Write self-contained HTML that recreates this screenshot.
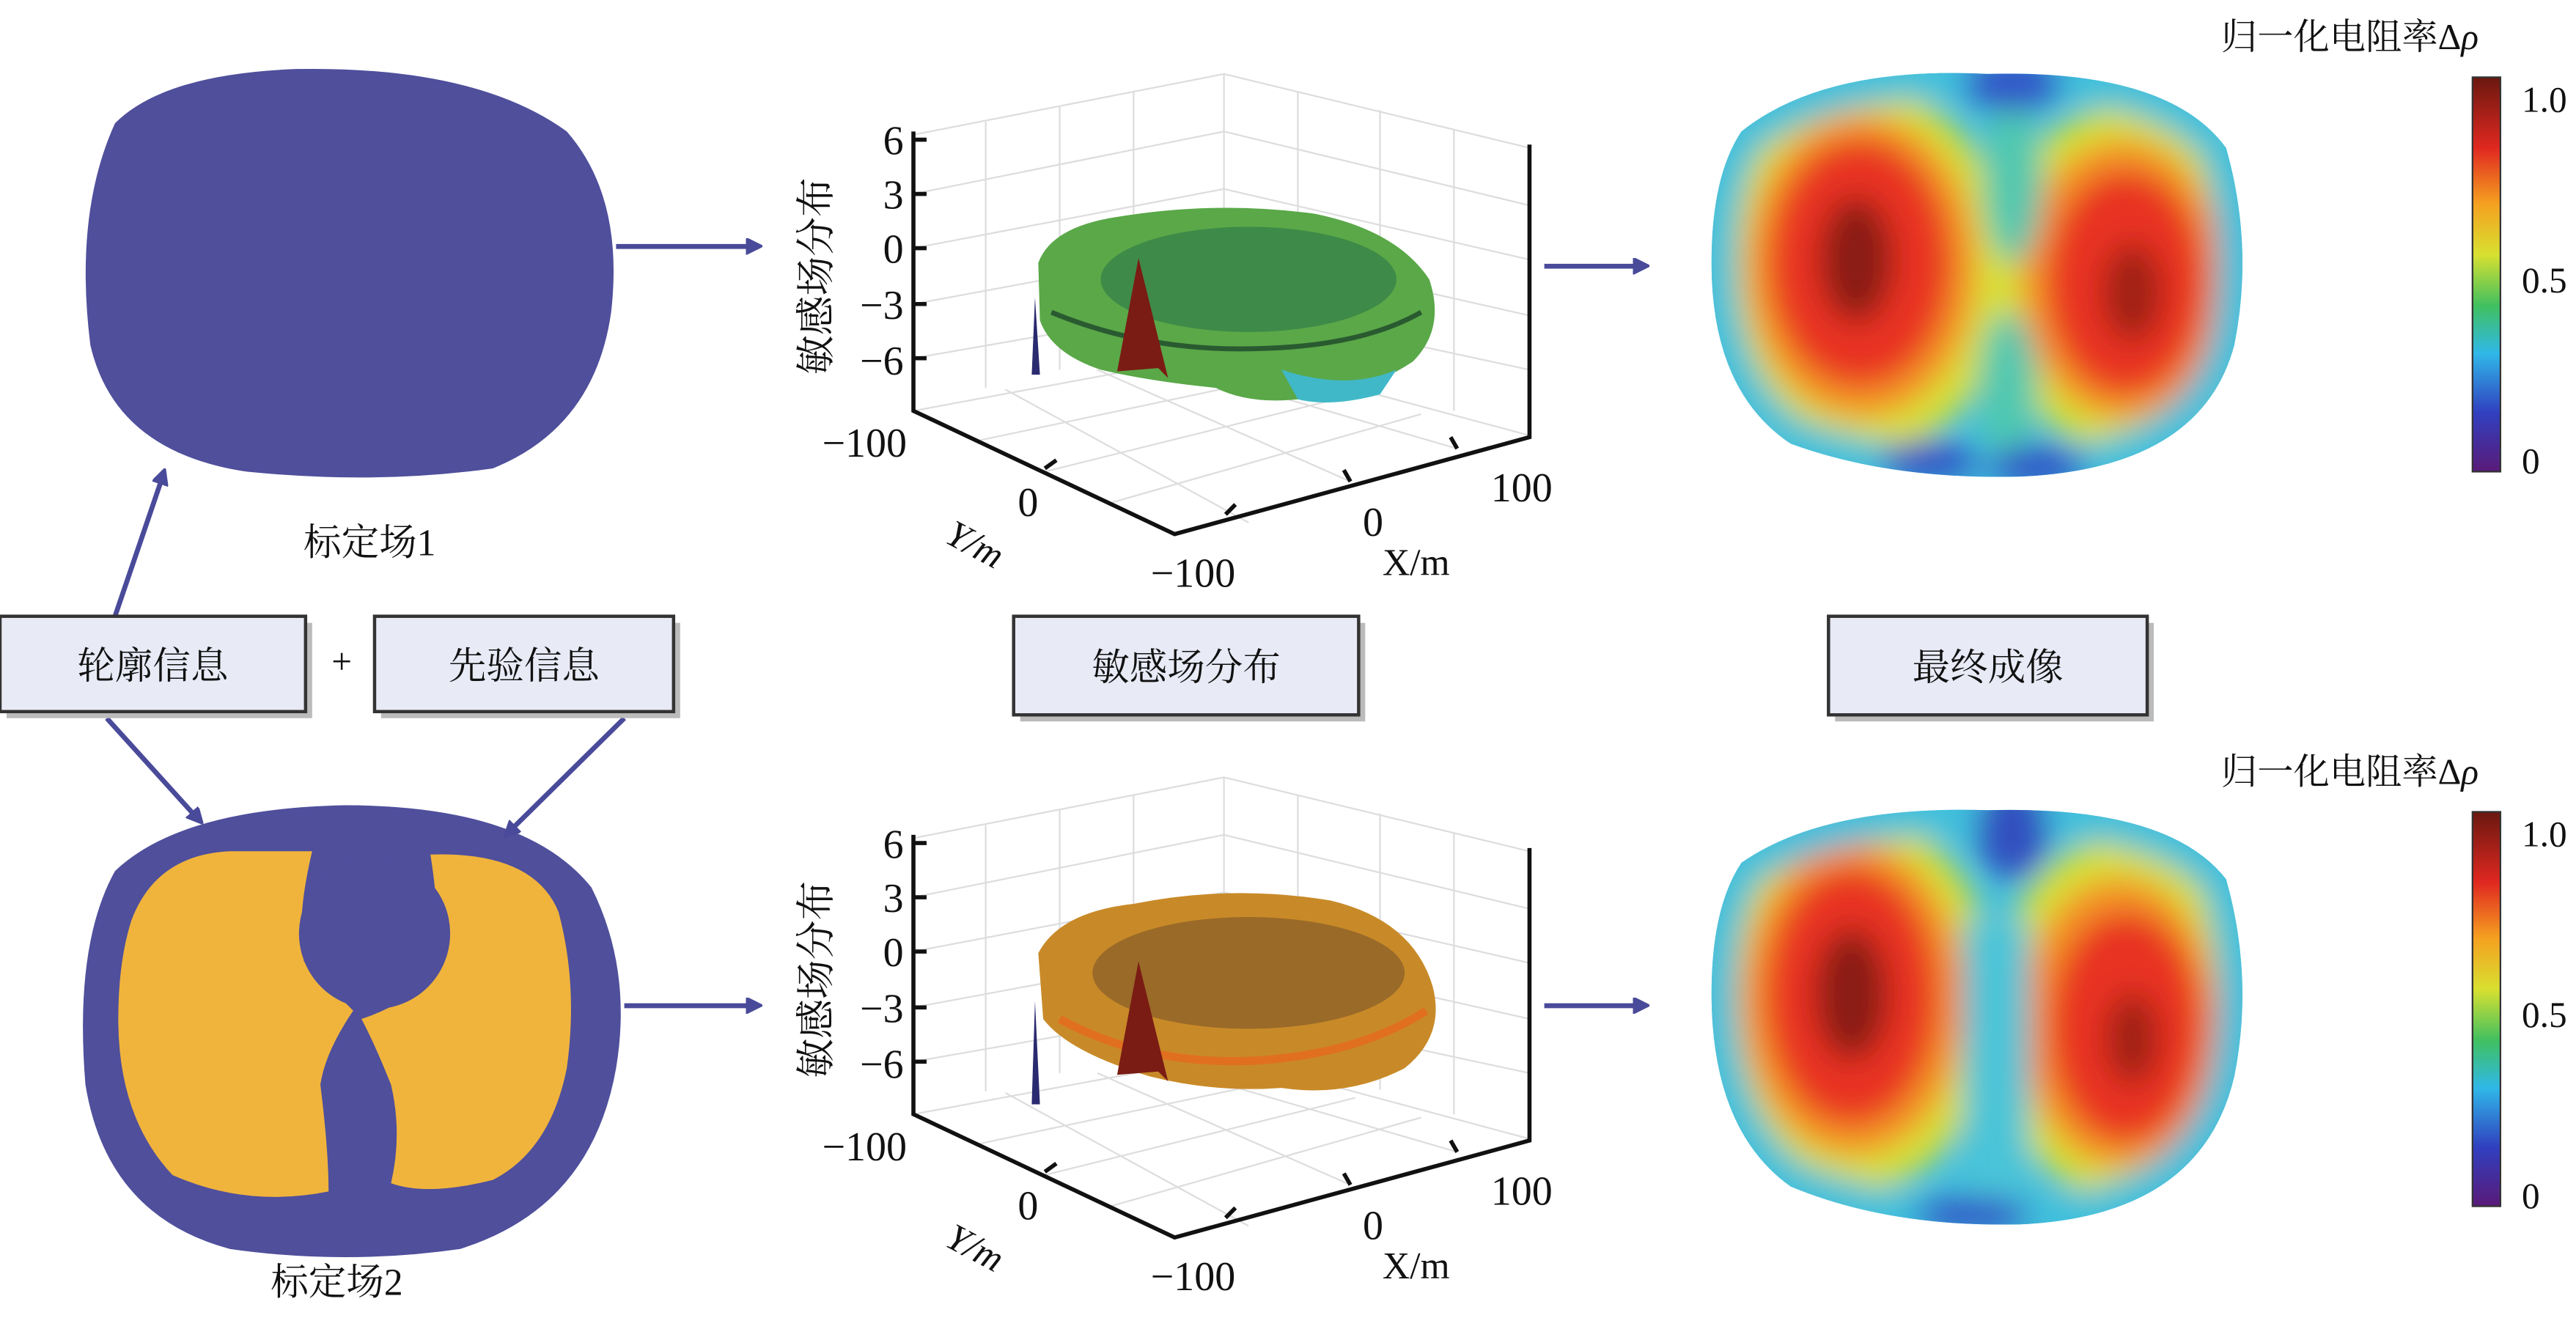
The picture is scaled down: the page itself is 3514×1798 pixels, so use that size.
<!DOCTYPE html>
<html><head><meta charset="utf-8"><style>
html,body{margin:0;padding:0;background:#fff}
svg{display:block}
text{font-family:"Liberation Serif","Noto Serif CJK SC",serif;fill:#111}
</style></head><body>
<svg width="3514" height="1798" viewBox="0 0 1568 802" preserveAspectRatio="none" xmlns="http://www.w3.org/2000/svg">
<defs>
<marker id="ah" markerWidth="10" markerHeight="10" refX="8" refY="5" orient="auto" markerUnits="userSpaceOnUse"><path d="M0,0 L10,5 L0,10 Z" fill="#4a4a9a" transform="scale(1.6) translate(-3,-2)"/></marker>
<filter id="bl" x="-20%" y="-20%" width="140%" height="140%"><feGaussianBlur stdDeviation="9"/></filter>
<linearGradient id="cb" x1="0" y1="1" x2="0" y2="0">
<stop offset="0" stop-color="#5a1a78"/><stop offset="0.15" stop-color="#3040c0"/><stop offset="0.3" stop-color="#30b8e8"/><stop offset="0.42" stop-color="#40c060"/><stop offset="0.55" stop-color="#d8e030"/><stop offset="0.68" stop-color="#f5a020"/><stop offset="0.82" stop-color="#e02820"/><stop offset="1" stop-color="#6a1810"/></linearGradient>
<path id="hs1" d="M1060,80 Q1110,40 1210,45 Q1320,42 1355,90 Q1372,150 1360,210 Q1340,285 1230,290 Q1150,292 1090,270 Q1045,240 1042,170 Q1040,110 1060,80 Z"/>
<path id="hs2" d="M1060,525 Q1110,490 1210,493 Q1320,490 1355,535 Q1372,595 1360,655 Q1340,740 1230,745 Q1150,747 1090,722 Q1045,690 1042,615 Q1040,555 1060,525 Z"/>
<clipPath id="hm1"><use href="#hs1"/></clipPath>
<clipPath id="hm2"><use href="#hs2"/></clipPath>
</defs>

<!-- left blobs -->
<path d="M70,75 Q100,45 180,42 Q290,40 345,80 Q380,120 372,190 Q362,260 300,285 Q230,295 150,287 Q70,275 55,210 Q45,130 70,75 Z" fill="#4f4f9c"/>
<path d="M70,530 Q110,492 210,490 Q320,490 360,540 Q385,590 375,650 Q360,735 280,760 Q210,770 140,760 Q65,740 52,660 Q45,575 70,530 Z" fill="#4f4f9c"/>
<path d="M80,560 Q95,520 140,518 L190,518 Q180,560 185,585 Q200,600 215,615 Q198,640 195,660 Q200,700 200,725 Q150,735 105,715 Q72,680 72,620 Q72,585 80,560 Z" fill="#f0b43c"/>
<path d="M262,520 Q325,518 340,555 Q352,600 345,650 Q335,700 300,718 Q260,728 238,720 Q245,690 238,660 Q228,635 220,620 Q245,612 262,595 Q270,570 262,520 Z" fill="#f0b43c"/>
<ellipse cx="228" cy="568" rx="46" ry="46" fill="#4f4f9c"/>

<text x="225" y="338" font-size="23" text-anchor="middle">标定场1</text>
<text x="205" y="788" font-size="23" text-anchor="middle">标定场2</text>

<g stroke="#4a4a9a" stroke-width="3" marker-end="url(#ah)" fill="none">
<line x1="375" y1="150" x2="462" y2="150"/>
<line x1="380" y1="612" x2="462" y2="612"/>
<line x1="940" y1="162" x2="1002" y2="162"/>
<line x1="940" y1="612" x2="1002" y2="612"/>
<line x1="70" y1="375" x2="100" y2="287"/>
<line x1="65" y1="437" x2="122" y2="500"/>
<line x1="380" y1="437" x2="308" y2="508"/>
</g>

<g stroke="#333" stroke-width="2">
<rect x="4" y="379" width="186" height="58" fill="#bbb" stroke="none"/>
<rect x="0" y="375" width="186" height="58" fill="#e8eaf6"/>
<rect x="232" y="379" width="182" height="58" fill="#bbb" stroke="none"/>
<rect x="228" y="375" width="182" height="58" fill="#e8eaf6"/>
<rect x="621" y="379" width="210" height="60" fill="#bbb" stroke="none"/>
<rect x="617" y="375" width="210" height="60" fill="#e8eaf6"/>
<rect x="1117" y="379" width="194" height="60" fill="#bbb" stroke="none"/>
<rect x="1113" y="375" width="194" height="60" fill="#e8eaf6"/>
</g>
<text x="93" y="413" font-size="23" text-anchor="middle">轮廓信息</text>
<text x="208" y="410" font-size="22" text-anchor="middle">+</text>
<text x="319" y="413" font-size="23" text-anchor="middle">先验信息</text>
<text x="722" y="414" font-size="23" text-anchor="middle">敏感场分布</text>
<text x="1210" y="414" font-size="23" text-anchor="middle">最终成像</text>

<g id="p1">
<g stroke="#ddd" stroke-width="1" fill="none">
<path d="M556,82 L745,45 L931,90"/><path d="M745,45 L745,215"/>
<path d="M600,74 L600,236 M645,65 L645,225 M690,56 L690,218 M790,56 L790,220 M840,67 L840,235 M885,79 L885,250"/>
<path d="M556,118 L745,80 L931,125 M556,151 L745,115 L931,158 M556,185 L745,150 L931,192 M556,218 L745,185 L931,225"/>
<path d="M556,250 L745,215 L931,265 M596,268 L785,228 M636,287 L825,240 M676,306 L865,252 M612,237 L760,318 M668,225 L822,293 M705,220 L887,273"/>
</g>
<g stroke="#111" stroke-width="2.5" fill="none">
<path d="M556,80 L556,250 L715,325 L931,266 L931,88"/>
<path d="M556,85 L564,85 M556,118 L564,118 M556,151 L564,151 M556,185 L564,185 M556,218 L564,218"/>
<path d="M636,285 L643,280 M746,313 L752,307 M822,293 L818,286 M887,273 L883,266"/>
</g>
</g>
<g font-size="25" text-anchor="end">
<text x="550" y="94">6</text><text x="550" y="127">3</text><text x="550" y="160">0</text><text x="550" y="194">−3</text><text x="550" y="228">−6</text>
<text x="552" y="278">−100</text><text x="632" y="314">0</text><text x="752" y="357">−100</text><text x="842" y="326">0</text><text x="945" y="305">100</text>
</g>
<text transform="translate(505,168) rotate(-90)" font-size="24" text-anchor="middle">敏感场分布</text>
<text transform="translate(590,338) rotate(28)" font-size="23" text-anchor="middle" font-style="italic">Y/m</text>
<text x="862" y="350" font-size="23" text-anchor="middle">X/m</text>
<path d="M632,160 Q640,138 680,132 Q740,122 800,130 Q850,140 870,170 Q880,200 860,220 Q830,240 790,243 Q760,246 740,236 Q700,232 670,225 Q640,215 633,195 Z" fill="#5aa848"/>
<ellipse cx="760" cy="170" rx="90" ry="32" fill="#3e8a48"/>
<path d="M640,190 Q700,215 770,212 Q830,210 865,190" stroke="#2a5a30" stroke-width="3" fill="none"/>
<path d="M780,225 Q820,238 850,225 L840,240 Q810,248 790,243 Z" fill="#40b8c8"/>
<path d="M693,157 L680,226 L705,224 L711,230 Z" fill="#7a1c14"/>
<path d="M630,181 L628,228 L633,228 Z" fill="#2a2a70"/>

<use href="#p1" transform="translate(0,428)"/>
<g font-size="25" text-anchor="end">
<text x="550" y="522">6</text><text x="550" y="555">3</text><text x="550" y="588">0</text><text x="550" y="622">−3</text><text x="550" y="656">−6</text>
<text x="552" y="706">−100</text><text x="632" y="742">0</text><text x="752" y="785">−100</text><text x="842" y="754">0</text><text x="945" y="733">100</text>
</g>
<text transform="translate(505,596) rotate(-90)" font-size="24" text-anchor="middle">敏感场分布</text>
<text transform="translate(590,766) rotate(28)" font-size="23" text-anchor="middle" font-style="italic">Y/m</text>
<text x="862" y="778" font-size="23" text-anchor="middle">X/m</text>
<path d="M632,580 Q645,555 690,550 Q750,538 810,548 Q860,560 872,600 Q880,630 855,650 Q820,668 780,662 Q740,665 700,655 Q650,640 635,620 Z" fill="#c88a28"/>
<ellipse cx="760" cy="592" rx="95" ry="34" fill="#9a6a28"/>
<path d="M645,620 Q700,650 770,645 Q830,640 868,615" stroke="#e07020" stroke-width="5" fill="none"/>
<path d="M693,585 L680,654 L705,652 L711,658 Z" fill="#7a1c14"/>
<path d="M630,609 L628,672 L633,672 Z" fill="#2a2a70"/>

<g clip-path="url(#hm1)">
<rect x="1030" y="30" width="350" height="270" fill="#40c0dc"/>
<g filter="url(#bl)">
<path d="M1060,60 L1225,170 L1370,60 L1370,290 L1225,170 L1060,290 Z" fill="#c8e040" opacity="0.9"/>
<ellipse cx="1135" cy="165" rx="88" ry="112" fill="#d8e038"/>
<ellipse cx="1292" cy="170" rx="80" ry="105" fill="#d8e038"/>
<ellipse cx="1133" cy="162" rx="70" ry="92" fill="#f49028"/>
<ellipse cx="1292" cy="170" rx="62" ry="85" fill="#f49028"/>
<ellipse cx="1132" cy="160" rx="55" ry="75" fill="#e83020"/>
<ellipse cx="1294" cy="172" rx="48" ry="68" fill="#e83020"/>
<ellipse cx="1130" cy="158" rx="22" ry="38" fill="#8a1c14"/>
<ellipse cx="1298" cy="178" rx="18" ry="30" fill="#a02018"/>
<ellipse cx="1225" cy="110" rx="18" ry="50" fill="#50c8b0"/>
<ellipse cx="1222" cy="235" rx="18" ry="45" fill="#50c8b0"/>
<use href="#hs1" fill="none" stroke="#40c0dc" stroke-width="30"/>
<ellipse cx="1225" cy="50" rx="30" ry="18" fill="#3058c8"/>
<ellipse cx="1175" cy="282" rx="30" ry="14" fill="#3058c8"/>
<ellipse cx="1240" cy="285" rx="30" ry="14" fill="#3058c8"/>
</g>
</g>
<g clip-path="url(#hm2)">
<rect x="1030" y="480" width="350" height="270" fill="#40c0dc"/>
<g filter="url(#bl)">
<ellipse cx="1130" cy="610" rx="85" ry="115" fill="#d8e038"/>
<ellipse cx="1290" cy="620" rx="78" ry="110" fill="#d8e038"/>
<ellipse cx="1128" cy="608" rx="68" ry="95" fill="#f49028"/>
<ellipse cx="1290" cy="622" rx="60" ry="88" fill="#f49028"/>
<ellipse cx="1127" cy="606" rx="52" ry="78" fill="#e83020"/>
<ellipse cx="1294" cy="625" rx="46" ry="70" fill="#e83020"/>
<ellipse cx="1127" cy="605" rx="22" ry="40" fill="#8a1c14"/>
<ellipse cx="1298" cy="632" rx="16" ry="28" fill="#a02018"/>
<rect x="1195" y="560" width="40" height="200" fill="#48c4d8"/>
<use href="#hs2" fill="none" stroke="#40c0dc" stroke-width="30"/>
<ellipse cx="1225" cy="505" rx="22" ry="30" fill="#3050c0"/>
<ellipse cx="1200" cy="740" rx="35" ry="12" fill="#3058c8"/>
</g>
</g>

<rect x="1505" y="47" width="17" height="240" fill="url(#cb)" stroke="#333" stroke-width="1"/>
<rect x="1505" y="494" width="17" height="240" fill="url(#cb)" stroke="#333" stroke-width="1"/>
<g font-size="22">
<text x="1352" y="30">归一化电阻率Δ<tspan font-style="italic">ρ</tspan></text>
<text x="1535" y="68">1.0</text><text x="1535" y="178">0.5</text><text x="1535" y="288">0</text>
<text x="1352" y="477">归一化电阻率Δ<tspan font-style="italic">ρ</tspan></text>
<text x="1535" y="515">1.0</text><text x="1535" y="625">0.5</text><text x="1535" y="735">0</text>
</g>
</svg>
</body></html>
